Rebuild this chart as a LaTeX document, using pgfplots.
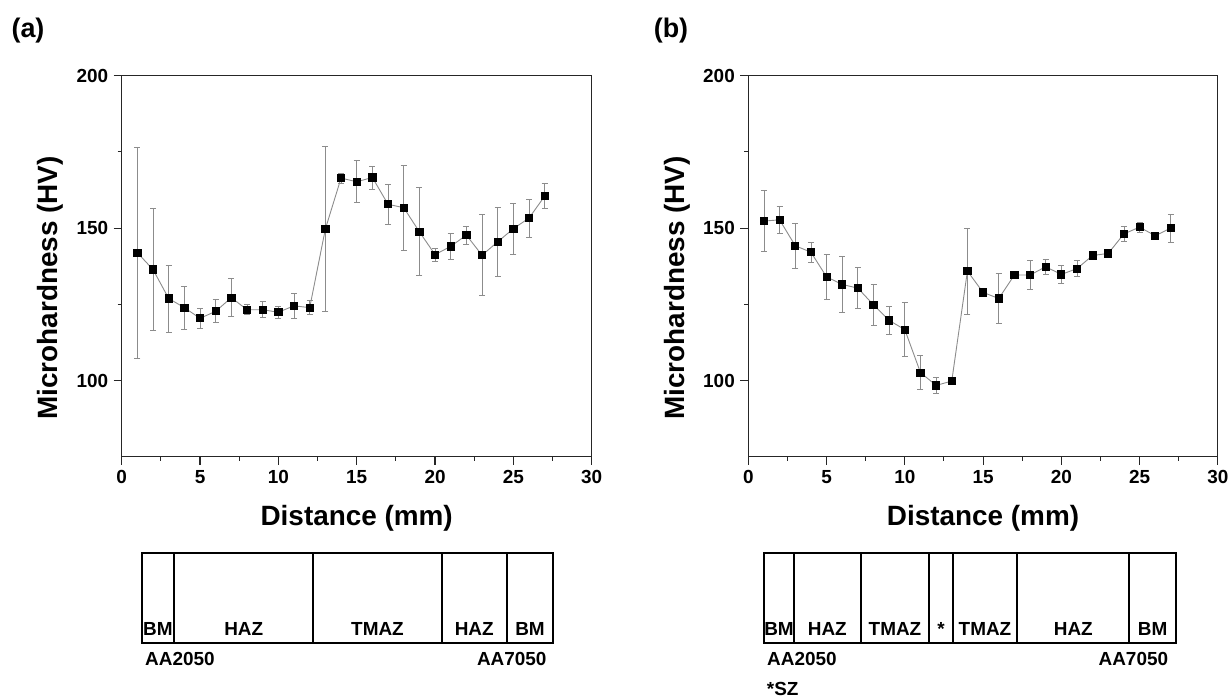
\documentclass[border=0pt]{standalone}
\usepackage{fontspec}
\setmainfont{Liberation Sans}
\usepackage{pgfplots}
\pgfplotsset{compat=1.18}

% microhardness profiles: x, HV, error
\pgfplotstableread{
x y e
1 141.9 34.7
2 136.4 20.0
3 126.9 11.0
4 123.9 7.0
5 120.4 3.4
6 122.7 3.8
7 127.2 6.2
8 123.2 1.6
9 123.2 2.6
10 122.4 2.0
11 124.5 4.0
12 123.9 2.3
13 149.7 27.0
14 166.4 1.6
15 165.2 6.9
16 166.6 3.8
17 157.8 6.5
18 156.7 14.0
19 148.8 14.4
20 141.3 2.1
21 144.0 4.3
22 147.7 3.0
23 141.1 13.3
24 145.5 11.3
25 149.8 8.4
26 153.3 6.2
27 160.5 4.2
}\dataA

\pgfplotstableread{
x y e
1 152.3 10.1
2 152.7 4.4
3 144.2 7.5
4 142.1 3.3
5 134.0 7.5
6 131.5 9.1
7 130.3 6.8
8 124.8 6.6
9 119.7 4.6
10 116.7 8.9
11 102.6 5.6
12 98.4 2.5
13 99.8 0
14 135.9 14.1
15 128.9 0
16 126.9 8.3
17 134.6 0
18 134.6 4.8
19 137.3 2.4
20 134.8 2.8
21 136.7 2.7
22 141.0 0
23 141.7 0
24 148.1 2.6
25 150.3 1.7
26 147.5 0
27 150.0 4.6
}\dataB

\pgfplotsset{
  hv/.style={
    scale only axis,
    width=470bp, height=381bp,
    anchor=south west,
    xmin=0, xmax=30, ymin=75, ymax=200,
    xtick={0,5,...,30}, ytick={100,150,200},
    minor x tick num=1, minor y tick num=1,
    tick align=outside,
    major tick length=8bp, minor tick length=4bp,
    xtick pos=bottom, ytick pos=left,
    axis line style={line width=1.3bp, black!85},
    every tick/.style={line width=1.1bp, black!85},
    /pgf/number format/assume math mode=true,
    ticklabel style={font=\fontsize{19}{19}\selectfont\bfseries},
    xticklabel style={yshift=-2bp},
    yticklabel style={xshift=-2bp},
    label style={font=\fontsize{28}{28}\selectfont\bfseries},
    xlabel={Distance (mm)},
    ylabel={Microhardness (HV)},
    xlabel style={at={(axis description cs:0.5,-0.161)}, anchor=center},
    ylabel style={at={(axis description cs:-0.151,0.443)}, anchor=center},
  },
  prof/.style={
    color=black!45, line width=0.9bp,
    mark=square*, mark size=3.6bp,
    mark options={fill=black, draw=black, solid},
    error bars/.cd, y dir=both, y explicit,
    error bar style={black!45, line width=0.8bp},
    error mark options={rotate=90, mark size=3bp, black!45, line width=0.8bp},
  },
}

\begin{document}
\begin{tikzpicture}[x=1bp, y=1bp]
\path[use as bounding box] (0,0) rectangle (1229,699);

\begin{axis}[hv, at={(121.7bp,242.3bp)}]
  \addplot[prof] table[x=x, y=y, y error=e] {\dataA};
\end{axis}

\begin{axis}[hv, width=469.5bp, at={(748.3bp,242.3bp)}]
  \addplot[prof] table[x=x, y=y, y error=e] {\dataB};
\end{axis}

\tikzset{zl/.style={font=\fontsize{19}{19}\selectfont\bfseries, inner sep=0pt}}
\node[font=\fontsize{27}{27}\selectfont\bfseries] at (28,668) {(a)};
\node[font=\fontsize{27}{27}\selectfont\bfseries] at (671,668) {(b)};

% zone strip (a)
\draw[line width=2bp] (141.7,55.7) rectangle (553.3,146.3);
\foreach \xx in {174,313.3,441.7,506.7} \draw[line width=2bp] (\xx,55.7) -- (\xx,146.3);
\node[zl] at (157.9,70) {BM};
\node[zl] at (243.7,70) {HAZ};
\node[zl] at (377.5,70) {TMAZ};
\node[zl] at (474.2,70) {HAZ};
\node[zl] at (530,70) {BM};
\node[zl, anchor=west] at (145,39.7) {AA2050};
\node[zl, anchor=east] at (546.7,39.7) {AA7050};

% zone strip (b)
\draw[line width=2bp] (764,55.7) rectangle (1176,146.3);
\foreach \xx in {794,860.7,929.3,952.7,1017.3,1129.3} \draw[line width=2bp] (\xx,55.7) -- (\xx,146.3);
\node[zl] at (779,70) {BM};
\node[zl] at (827.3,70) {HAZ};
\node[zl] at (895,70) {TMAZ};
\node[zl] at (941,70) {*};
\node[zl] at (985,70) {TMAZ};
\node[zl] at (1073.3,70) {HAZ};
\node[zl] at (1152.7,70) {BM};
\node[zl, anchor=west] at (767,39.7) {AA2050};
\node[zl, anchor=east] at (1168.3,39.7) {AA7050};
\node[zl, anchor=west] at (766.7,10) {*SZ};
\end{tikzpicture}
\end{document}
